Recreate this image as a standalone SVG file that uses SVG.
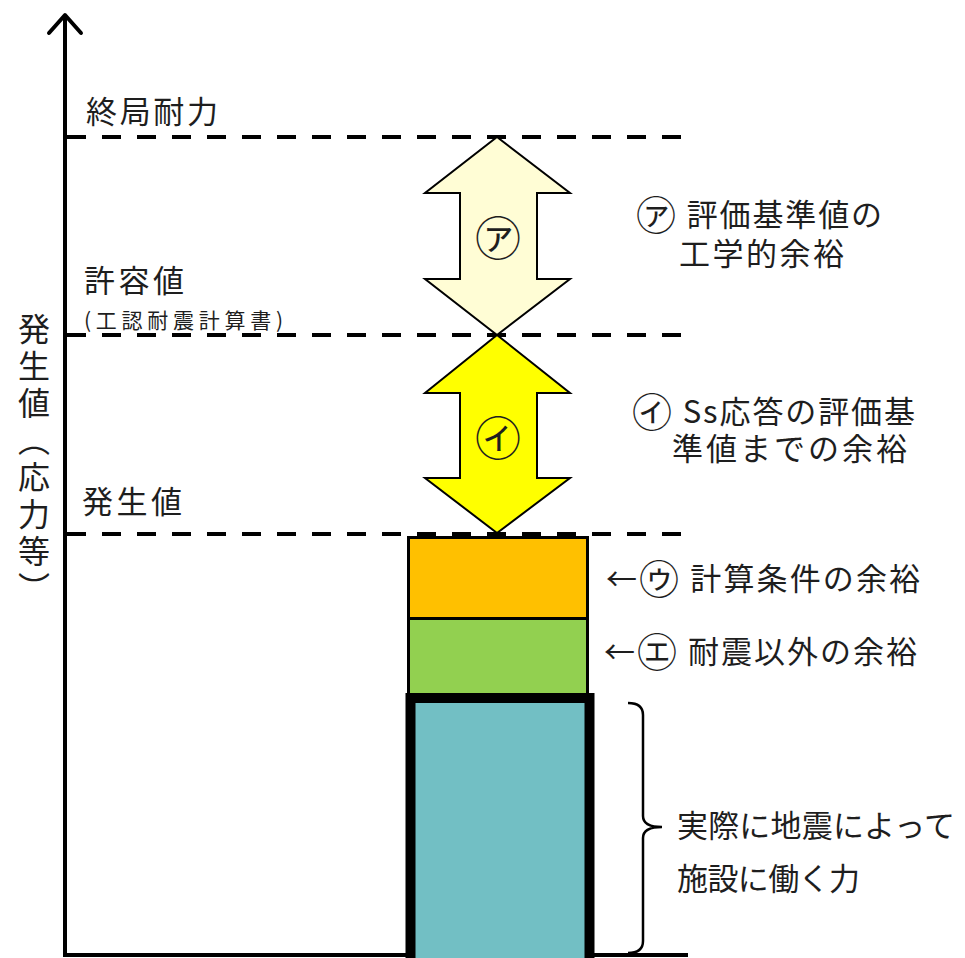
<svg xmlns="http://www.w3.org/2000/svg" width="965" height="958" viewBox="0 0 965 958">
<style>
text{font-family:"Noto Sans CJK JP","Noto Sans CJK SC",sans-serif;fill:#1e1e1e;font-size:31px}
.dash{stroke:#000;stroke-width:4;stroke-dasharray:19 16;fill:none}
.arr{stroke:#000;stroke-width:2;stroke-linejoin:miter}
.small{font-size:21px}
.circ{font-size:40px}
.circbig{font-size:46px}
.vert{font-size:32px}
</style>
<rect width="965" height="958" fill="#fff"/>
<g id="axes" fill="none" stroke="#000">
  <line x1="65" y1="15" x2="65" y2="957" stroke-width="4"/>
  <polyline points="49,33 65,15 81,33" stroke-width="4" stroke-linecap="round" stroke-linejoin="round"/>
  <line x1="63" y1="955" x2="688" y2="955" stroke-width="4"/>
</g>
<g id="axis-label">
  <text class="vert" x="34" y="313" writing-mode="vertical-rl" letter-spacing="5">発生値（応力等）</text>
</g>
<g id="levels">
  <line class="dash" x1="67" y1="137" x2="682" y2="137"/>
  <line class="dash" x1="67" y1="335" x2="682" y2="335"/>
  <line class="dash" x1="67" y1="534" x2="682" y2="534"/>
  <text x="86" y="123" textLength="132" lengthAdjust="spacing">終局耐力</text>
  <text x="84" y="292" textLength="100" lengthAdjust="spacing">許容値</text>
  <text class="small" x="84" y="328" textLength="199" lengthAdjust="spacing">(工認耐震計算書)</text>
  <text x="82" y="513" textLength="100" lengthAdjust="spacing">発生値</text>
</g>
<g id="bars">
  <rect x="408.5" y="537.5" width="179" height="81" fill="#FFC000" stroke="#000" stroke-width="3"/>
  <rect x="408.5" y="618.5" width="179" height="76" fill="#92D050" stroke="#000" stroke-width="3"/>
  <rect x="410.5" y="698" width="179" height="265" fill="#72BFC4" stroke="#000" stroke-width="10"/>
</g>
<g id="arrow-a">
  <polygon class="arr" fill="#FFFDD5" points="497,137 570,193 537,193 537,279 570,279 497,335 425,279 460,279 460,193 425,193"/>
  <text class="circbig" x="498" y="255" text-anchor="middle">㋐</text>
</g>
<g id="arrow-i">
  <polygon class="arr" fill="#FFFF00" points="497,335 570,393 537,393 537,478 570,478 497,533 425,478 460,478 460,393 425,393"/>
  <text class="circbig" x="498" y="455" text-anchor="middle">㋑</text>
</g>
<g id="label-a">
  <text x="636" y="226" textLength="246" lengthAdjust="spacing"><tspan class="circ" dy="4">㋐</tspan><tspan dy="-4"> 評価基準値の</tspan></text>
  <text x="679" y="265" textLength="165" lengthAdjust="spacing">工学的余裕</text>
</g>
<g id="label-i">
  <text x="632" y="423" textLength="283" lengthAdjust="spacing"><tspan class="circ" dy="4">㋑</tspan><tspan dy="-4"> Ss応答の評価基</tspan></text>
  <text x="672" y="460" textLength="235" lengthAdjust="spacing">準値までの余裕</text>
</g>
<g id="label-u">
  <text x="606" y="590" textLength="314" lengthAdjust="spacing">←<tspan class="circ" dy="4">㋒</tspan><tspan dy="-4"> 計算条件の余裕</tspan></text>
</g>
<g id="label-e">
  <text x="604" y="663" textLength="313" lengthAdjust="spacing">←<tspan class="circ" dy="4">㋓</tspan><tspan dy="-4"> 耐震以外の余裕</tspan></text>
</g>
<g id="brace-label">
  <path d="M628,703 Q643,703 643,715 L643,816 Q643,827 662,827 Q643,827 643,838 L643,941 Q643,953 628,953" fill="none" stroke="#000" stroke-width="2.5"/>
  <text x="677" y="837" textLength="278" lengthAdjust="spacing">実際に地震によって</text>
  <text x="677" y="890" textLength="183" lengthAdjust="spacing">施設に働く力</text>
</g>
</svg>
